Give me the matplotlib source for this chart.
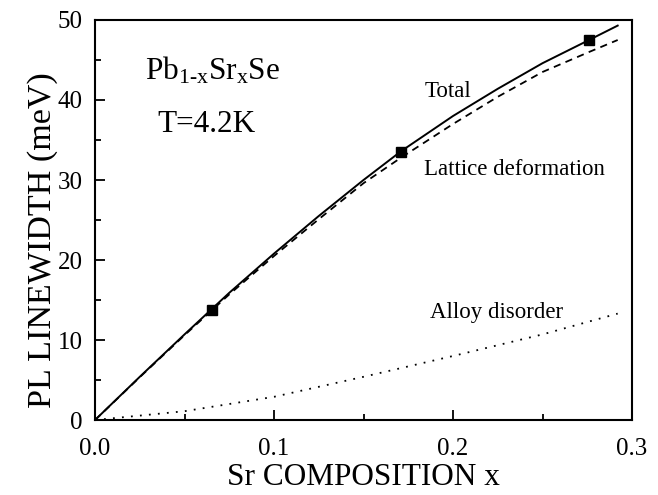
#!/usr/bin/env python3
#
# PL linewidth vs Sr composition, Pb1-xSrxSe at 4.2 K
#

import matplotlib
matplotlib.use('Agg')
import matplotlib.pyplot as plt
from matplotlib.ticker import MultipleLocator

plt.rcParams['font.family'] = ['Liberation Serif', 'DejaVu Serif']
plt.rcParams['mathtext.fontset'] = 'custom'
plt.rcParams['mathtext.rm'] = 'Liberation Serif'
plt.rcParams['mathtext.it'] = 'Liberation Serif:italic'

# measured points
x_meas = [0.0655, 0.171, 0.276]
y_meas = [13.8, 33.5, 47.5]

# model curves
x_tot = [0, 0.025, 0.05, 0.075, 0.1, 0.125, 0.15, 0.171, 0.2, 0.225, 0.25, 0.276, 0.292]
y_tot = [0, 5.4, 10.7, 15.9, 20.8, 25.5, 30.0, 33.6, 38.0, 41.4, 44.6, 47.5, 49.3]

x_lat = [0, 0.025, 0.05, 0.075, 0.1, 0.125, 0.15, 0.171, 0.2, 0.225, 0.25, 0.276, 0.292]
y_lat = [0, 5.35, 10.6, 15.7, 20.5, 25.1, 29.6, 32.8, 37.0, 40.4, 43.5, 46.0, 47.5]

x_alloy = [0, 0.05, 0.1, 0.15, 0.2, 0.25, 0.292]
y_alloy = [0, 1.1, 2.9, 5.4, 8.0, 10.7, 13.3]

fig = plt.figure(figsize=(6.58, 4.95), dpi=100)
ax = fig.add_axes([0.1444, 0.1515, 0.8161, 0.8081])

ax.plot(x_tot, y_tot, color='black', lw=1.4)
ax.plot(x_lat, y_lat, color='black', lw=1.3, linestyle=(0, (4, 3)))
ax.plot(x_alloy, y_alloy, color='black', lw=1.3, linestyle=(0, (1, 4)))
ax.plot(x_meas, y_meas, 's', color='black', markersize=7.5)

ax.set_xlim(0, 0.3)
ax.set_ylim(0, 50)
ax.xaxis.set_major_locator(MultipleLocator(0.1))
ax.xaxis.set_minor_locator(MultipleLocator(0.05))
ax.yaxis.set_major_locator(MultipleLocator(10))
ax.yaxis.set_minor_locator(MultipleLocator(5))
ax.tick_params(which='both', direction='in', top=False, right=False, width=1.3, labelsize=18)
ax.tick_params(which='major', length=7)
ax.tick_params(which='minor', length=4)
ax.tick_params(axis='x', which='major', pad=13)
ax.tick_params(axis='y', which='major', pad=9)
ax.xaxis.set_major_formatter(plt.FuncFormatter(lambda v, p: '%.1f' % v))
for s in ax.spines.values():
    s.set_linewidth(1.5)

ax.set_xlabel('Sr COMPOSITION x', fontsize=22.5, labelpad=2)
ax.set_ylabel('PL LINEWIDTH (meV)', fontsize=24.5, labelpad=0, y=0.45)

ax.text(0.028, 42.5, r'Pb$_{\mathrm{1\text{-}x}}$Sr$_{\mathrm{x}}$Se', fontsize=22.5)
ax.text(0.035, 36, 'T=4.2K', fontsize=22.5)
ax.text(0.184, 40.4, 'Total', fontsize=16.5)
ax.text(0.184, 30.6, 'Lattice deformation', fontsize=16.5)
ax.text(0.187, 12.7, 'Alloy disorder', fontsize=16.5)

fig.savefig('out.png', dpi=100)
